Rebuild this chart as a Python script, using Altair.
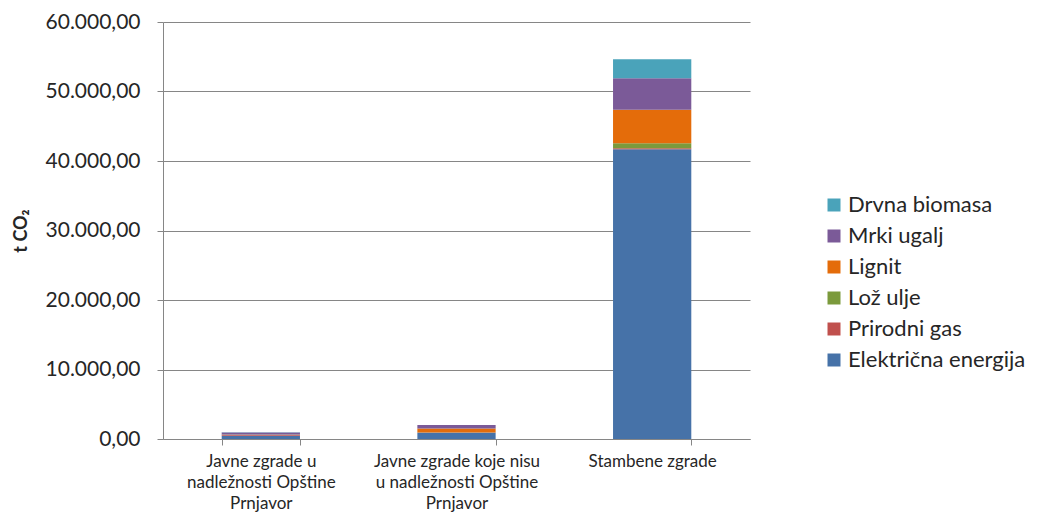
import altair as alt
import pandas as pd

categories = [
    "Javne zgrade u|nadležnosti Opštine|Prnjavor",
    "Javne zgrade koje nisu|u nadležnosti Opštine|Prnjavor",
    "Stambene zgrade",
]
series = ["Električna energija", "Prirodni gas", "Lož ulje", "Lignit", "Mrki ugalj", "Drvna biomasa"]
elektricna = [450, 860, 41700]
prirodni_gas = [150, 80, 150]
loz_ulje = [30, 30, 720]
lignit = [0, 530, 4790]
mrki_ugalj = [300, 500, 4560]
drvna_biomasa = [30, 30, 2730]
colors = ["#4672A8", "#C0504D", "#7B9A3C", "#E46C0A", "#7B5A98", "#4AA3BA"]

values = [elektricna, prirodni_gas, loz_ulje, lignit, mrki_ugalj, drvna_biomasa]
rows = []
for si, (s, vals) in enumerate(zip(series, values)):
    for c, v in zip(categories, vals):
        rows.append({"cat": c, "series": s, "value": v, "order": si})
df = pd.DataFrame(rows)

legend_order = list(reversed(series))
legend_colors = list(reversed(colors))

FONT = "Lato"

chart = alt.Chart(df).mark_bar().encode(
    x=alt.X("cat:N", sort=categories, title=None,
            scale=alt.Scale(paddingInner=0.6, paddingOuter=0.3),
            axis=alt.Axis(labelAngle=0, labelExpr="split(datum.label, '|')", grid=False,
                          labelFontSize=17, labelLineHeight=21, labelPadding=8,
                          tickBand="extent", tickSize=6, tickColor="#868686",
                          domainColor="#868686", labelColor="#262626", labelFont=FONT,
                          labelBaseline="top")),
    y=alt.Y("value:Q", stack="zero", title="t CO₂",
            scale=alt.Scale(domain=[0, 60000], nice=False),
            axis=alt.Axis(values=[0, 10000, 20000, 30000, 40000, 50000, 60000],
                          labelExpr="replace(replace(replace(format(datum.value, ',.2f'), ',', '#'), '.', ','), '#', '.')",
                          labelFontSize=21, labelColor="#262626", labelFont=FONT,
                          tickSize=6, tickColor="#868686", labelPadding=17,
                          domainColor="#868686", gridColor="#868686",
                          titleFontSize=18, titleFont=FONT, titleFontWeight="bold",
                          titleColor="#262626", titlePadding=15)),
    color=alt.Color("series:N", scale=alt.Scale(domain=legend_order, range=legend_colors),
                    legend=alt.Legend(title=None, orient="none", legendX=660, legendY=172,
                                      symbolType="square", symbolSize=169, symbolStrokeWidth=0,
                                      labelFontSize=22, labelFont=FONT, labelColor="#262626",
                                      labelLimit=400, rowPadding=9, labelOffset=3)),
    order=alt.Order("order:Q", sort="ascending"),
).properties(
    width=587, height=417,
    background="white",
    autosize=alt.AutoSizeParams(type="none"),
    padding={"left": 155, "top": 14, "right": 281, "bottom": 75},
).configure_view(stroke=None)

chart.save("out.html", embed_options={"renderer": "svg", "actions": False})
